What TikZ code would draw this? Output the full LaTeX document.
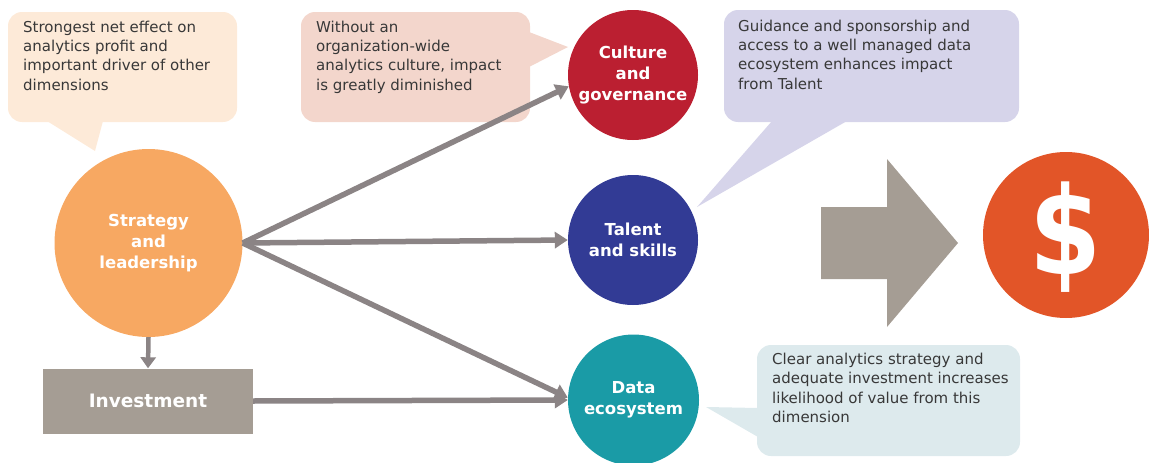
\documentclass[tikz,border=0pt]{standalone}
\usepackage{fontspec}
\setmainfont{DejaVu Sans}
\usetikzlibrary{arrows.meta}
\definecolor{cStrat}{HTML}{F7A862}
\definecolor{cCult}{HTML}{BB1F31}
\definecolor{cTal}{HTML}{323B95}
\definecolor{cData}{HTML}{1A9BA6}
\definecolor{cDollar}{HTML}{E25528}
\definecolor{cBox}{HTML}{A59D94}
\definecolor{cConn}{HTML}{8B8485}
\definecolor{cOne}{HTML}{FDEAD8}
\definecolor{cTwo}{HTML}{F3D6CC}
\definecolor{cThree}{HTML}{D6D4EA}
\definecolor{cFour}{HTML}{DDEAED}
\definecolor{cText}{HTML}{383838}
\tikzset{
  ctext/.style={anchor=north west, inner sep=0pt, align=left, text=cText,
    font=\fontsize{15}{19.2}\selectfont},
  bubble/.style={circle, inner sep=0pt, align=center, text=white,
    font=\bfseries\fontsize{16.5}{21}\selectfont},
  conn/.style={draw=cConn, line width=5.5pt, -{Triangle[length=13pt,width=16pt]}},
  callout/.style={rounded corners=14pt},
}
\begin{document}
\begin{tikzpicture}[x=1pt,y=-1pt]
\useasboundingbox (0,0) rectangle (1149,463);

% callout backgrounds
\fill[cOne, callout] (8,12) rectangle (237,122);
\fill[cOne] (47,121) -- (103,121) -- (95,151) -- cycle;
\fill[cTwo, callout] (301,12) rectangle (530,122);
\fill[cTwo] (529,32) -- (568,47) -- (529,67) -- cycle;
\fill[cThree, callout] (724,10) rectangle (1019,122);
\fill[cThree] (772,121) -- (847,121) -- (697,207) -- cycle;
\fill[cFour, callout] (757,345) rectangle (1020,456);
\fill[cFour] (758,408) -- (706,407) -- (758,437) -- cycle;

% callout texts
\node[ctext] (t1) at (23,21) {Strongest net effect on\\analytics profit and\\important driver of other\\dimensions};
\node[ctext] (t2) at (316,21) {Without an\\organization-wide\\analytics culture, impact\\is greatly diminished};
\node[ctext] (t3) at (738,20) {Guidance and sponsorship and\\access to a well managed data\\ecosystem enhances impact\\from Talent};
\node[ctext] (t4) at (772,353) {Clear analytics strategy and\\adequate investment increases\\likelihood of value from this\\dimension};

% circles
\node[bubble, fill=cStrat, minimum size=188pt] (strat) at (148.5,243) {Strategy\\and\\leadership};
\node[bubble, fill=cCult, minimum size=130pt] (cult) at (633,75) {Culture\\and\\governance};
\node[bubble, fill=cTal, minimum size=130pt] (tal) at (633,240) {Talent\\and skills};
\node[bubble, fill=cData, minimum size=131pt] (data) at (633.5,400) {Data\\ecosystem};

% investment box
\node[fill=cBox, minimum width=210pt, minimum height=65pt, inner sep=0pt, text=white,
  font=\bfseries\fontsize{18.5}{22}\selectfont] (inv) at (148,401) {Investment};

% big arrow and dollar
\fill[cBox] (821,207) -- (887,207) -- (887,159) -- (958,243) -- (887,327) -- (887,279) -- (821,279) -- cycle;
\node[circle, fill=cDollar, minimum size=166pt, inner sep=0pt] (dollar) at (1066,235) {};
\node[text=white, inner sep=0pt, xscale=0.85, font=\bfseries\fontsize{122}{122}\selectfont] (dsign) at (1066,237) {\$};

% connectors
\draw[conn] (strat.east) -- (cult.190);
\draw[conn] (strat.east) -- (tal.west);
\draw[conn] (strat.east) -- (data.178);
\draw[conn] (inv.east) -- (data.west);
\draw[draw=cConn, line width=4.5pt, -{Triangle[length=11pt,width=15pt]}] (strat.south) -- (inv.north);
\end{tikzpicture}
\end{document}
